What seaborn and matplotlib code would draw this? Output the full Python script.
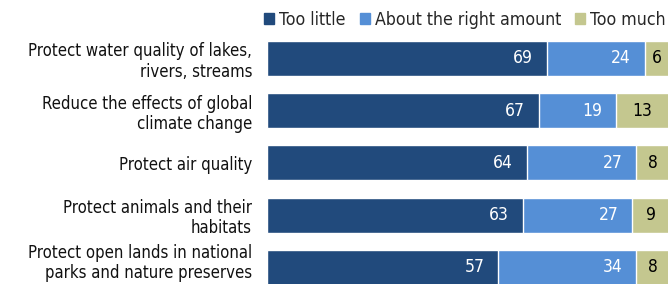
import pandas as pd
import matplotlib
matplotlib.use("Agg")
from matplotlib import pyplot as plt
from matplotlib.patches import Patch
from matplotlib.transforms import ScaledTranslation
import seaborn as sns

categories = ["Protect water quality of lakes,\nrivers, streams",
              "Reduce the effects of global\nclimate change",
              "Protect air quality",
              "Protect animals and their\nhabitats",
              "Protect open lands in national\nparks and nature preserves"]
too_little = [69, 67, 64, 63, 57]
right_amount = [24, 19, 27, 27, 34]
too_much = [6, 13, 8, 9, 8]
series = ["Too little", "About the right amount", "Too much"]

colors = ["#214A7C", "#558FD6", "#C4C78F"]

sns.set_style("white")
plt.rcParams['font.family'] = ['DejaVu Sans']
plt.rcParams['font.stretch'] = 'condensed'

df = pd.DataFrame({"cat": categories, "little": too_little,
                   "right": right_amount, "much": too_much})
df["c2"] = df["little"] + df["right"]
df["c3"] = df["c2"] + df["much"]

fig = plt.figure(figsize=(6.68, 2.84), dpi=100)
ax = fig.add_axes([267/668, 0, 1 - 267/668, 254/284])

# stacked: draw totals first, then overlay
sns.barplot(data=df, y="cat", x="c3", color=colors[2], width=0.67, ax=ax, orient="h", saturation=1)
sns.barplot(data=df, y="cat", x="c2", color=colors[1], width=0.67, ax=ax, orient="h", saturation=1)
sns.barplot(data=df, y="cat", x="little", color=colors[0], width=0.67, ax=ax, orient="h", saturation=1)

for i, row in df.iterrows():
    ax.text(row["little"] - 3.45, i, str(row["little"]), color="white", ha="right", va="center", fontsize=12.5)
    ax.text(row["c2"] - 3.45, i, str(row["right"]), color="white", ha="right", va="center", fontsize=12.5)
    ax.text(row["c2"] + row["much"] / 2, i, str(row["much"]), color="black", ha="center", va="center", fontsize=12.5)

ax.set_xlim(0, 98.77)
ax.set_ylim(4.316, -0.545)
ax.set_xlabel("")
ax.set_ylabel("")
ax.set_xticks([])
ax.tick_params(axis="y", length=0, pad=10.8, labelsize=12, labelcolor="#111111")
for lbl in ax.get_yticklabels():
    lbl.set_horizontalalignment("right")
    lbl.set_linespacing(1.15)
# last label sits a bit higher (cropped chart)
last = ax.get_yticklabels()[-1]
last.set_transform(last.get_transform() + ScaledTranslation(0, 7.5 / 100, fig.dpi_scale_trans))
sns.despine(ax=ax, left=True, bottom=True)

handles = [Patch(color=c, label=s) for c, s in zip(colors, series)]
fig.legend(handles=handles, ncol=3, loc="center right", bbox_to_anchor=(666/668, 1 - 20/284),
           frameon=False, fontsize=12.7, handlelength=0.55, handleheight=0.55,
           handletextpad=0.3, columnspacing=0.8, borderpad=0, borderaxespad=0)

fig.savefig("out.png", dpi=100)
